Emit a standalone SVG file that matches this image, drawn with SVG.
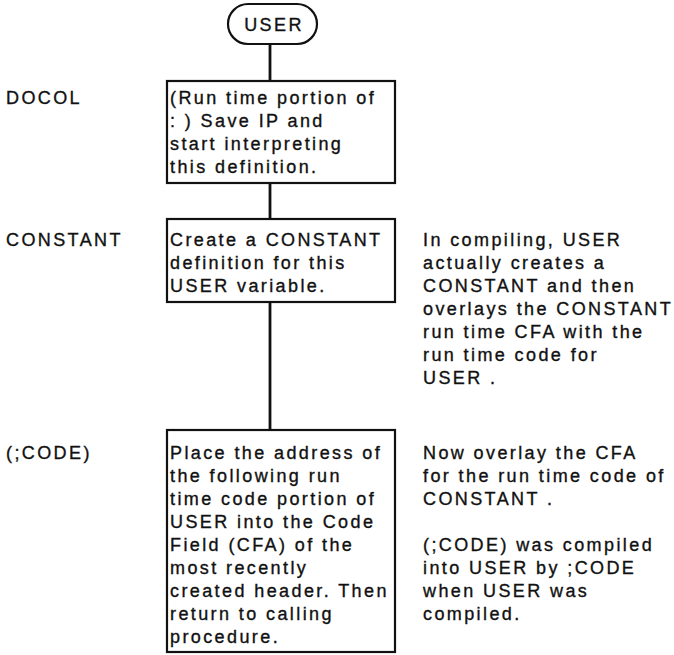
<svg xmlns="http://www.w3.org/2000/svg" width="674" height="655" viewBox="0 0 674 655">
<style>
text{font-family:"Liberation Sans",Arial,sans-serif;font-size:18px;fill:#111;stroke:#111;stroke-width:0.35;letter-spacing:2.4px}
.box{fill:#fff;stroke:#111;stroke-width:2.2}
.con{stroke:#111;stroke-width:2.8;fill:none}
</style>
<rect width="674" height="655" fill="#fff"/>
<g id="connectors">
<line class="con" x1="270" y1="44" x2="270" y2="81"/>
<line class="con" x1="270" y1="183" x2="270" y2="219"/>
<line class="con" x1="270" y1="302" x2="270" y2="430"/>
</g>
<g id="user">
<rect class="box" x="228" y="4" width="89" height="40" rx="20" ry="20"/>
<text x="274" y="30.5" text-anchor="middle">USER</text>
</g>
<g id="docol">
<text x="6" y="104">DOCOL</text>
<rect class="box" x="167" y="81" width="228" height="102"/>
<text x="170" y="104">(Run time portion of</text>
<text x="170" y="127">: ) Save IP and</text>
<text x="170" y="150">start interpreting</text>
<text x="170" y="173">this definition.</text>
</g>
<g id="constant">
<text x="6" y="245.5">CONSTANT</text>
<rect class="box" x="167" y="219" width="228" height="83"/>
<text x="170" y="245.5">Create a CONSTANT</text>
<text x="170" y="268.5">definition for this</text>
<text x="170" y="291.5">USER variable.</text>
<text x="423" y="245.5">In compiling, USER</text>
<text x="423" y="268.5">actually creates a</text>
<text x="423" y="291.5">CONSTANT and then</text>
<text x="423" y="314.5">overlays the CONSTANT</text>
<text x="423" y="337.5">run time CFA with the</text>
<text x="423" y="360.5">run time code for</text>
<text x="423" y="383.5">USER .</text>
</g>
<g id="code">
<text x="6" y="458.5">(;CODE)</text>
<rect class="box" x="167" y="430" width="228" height="222"/>
<text x="170" y="458.5">Place the address of</text>
<text x="170" y="481.5">the following run</text>
<text x="170" y="504.5">time code portion of</text>
<text x="170" y="527.5">USER into the Code</text>
<text x="170" y="550.5">Field (CFA) of the</text>
<text x="170" y="573.5">most recently</text>
<text x="170" y="596.5">created header. Then</text>
<text x="170" y="619.5">return to calling</text>
<text x="170" y="643">procedure.</text>
<text x="423" y="458.5">Now overlay the CFA</text>
<text x="423" y="481.5">for the run time code of</text>
<text x="423" y="504.5">CONSTANT .</text>
<text x="423" y="550.5">(;CODE) was compiled</text>
<text x="423" y="573.5">into USER by ;CODE</text>
<text x="423" y="596.5">when USER was</text>
<text x="423" y="619.5">compiled.</text>
</g>
</svg>
